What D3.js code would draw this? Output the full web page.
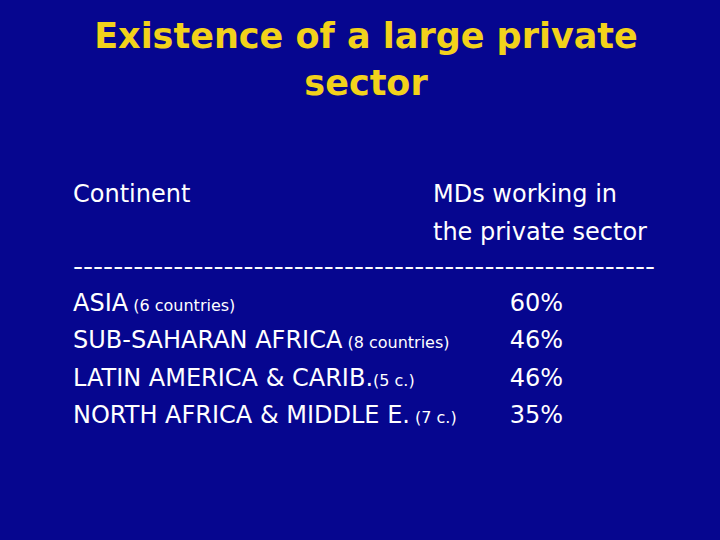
<!DOCTYPE html>
<html>
<head>
<meta charset="utf-8">
<script src="https://cdn.jsdelivr.net/npm/d3@7"></script>
<style>
  body { margin: 0; background: #06068f; }
  svg { display: block; font-family: Tahoma, "DejaVu Sans", sans-serif; }
</style>
</head>
<body>
<svg id="slide"></svg>
<script>
// slide content
let titleLines = ["Existence of a large private", "sector"];
let headers = ["MDs working in", "the private sector"];
let regions = ["ASIA", "SUB-SAHARAN AFRICA", "LATIN AMERICA & CARIB.", "NORTH AFRICA & MIDDLE E."];
let notes = ["(6 countries)", "(8 countries)", "(5 c.)", "(7 c.)"];
let shares = [60, 46, 46, 35];

let width = 720, height = 540;
let svg = d3.select("#slide").attr("width", width).attr("height", height);

svg.append("rect").attr("width", width).attr("height", height).attr("fill", "#06068f");

// title
svg.append("g")
    .attr("fill", "#f2d21b")
    .attr("font-weight", "bold")
    .attr("font-size", 35)
    .attr("text-anchor", "middle")
    .selectAll("text")
    .data(titleLines)
    .join("text")
    .attr("x", 366)
    .attr("y", (d, i) => 48 + i * 47)
    .text(d => d);

let body = svg.append("g").attr("fill", "white").attr("font-size", 24);

body.append("text").attr("x", 73).attr("y", 202).text("Continent");
body.selectAll(".hdr")
    .data(headers)
    .join("text")
    .attr("class", "hdr")
    .attr("x", 433)
    .attr("y", (d, i) => 202 + i * 38)
    .text(d => d);

body.append("text")
    .attr("x", 73).attr("y", 275)
    .attr("textLength", 582)
    .attr("lengthAdjust", "spacingAndGlyphs")
    .text("-".repeat(58));

let y = d3.scalePoint().domain(d3.range(regions.length)).range([311, 423]);

let rows = body.selectAll(".row")
    .data(regions)
    .join("g")
    .attr("class", "row")
    .attr("transform", (d, i) => `translate(0,${y(i)})`);

rows.append("text")
    .attr("x", 73)
    .text(d => d)
    .append("tspan")
    .attr("font-size", 16)
    .text((d, i) => (i === 2 ? "" : " ") + notes[i]);

rows.append("text")
    .attr("x", 563)
    .attr("text-anchor", "end")
    .text((d, i) => shares[i] + "%");
</script>
</body>
</html>
